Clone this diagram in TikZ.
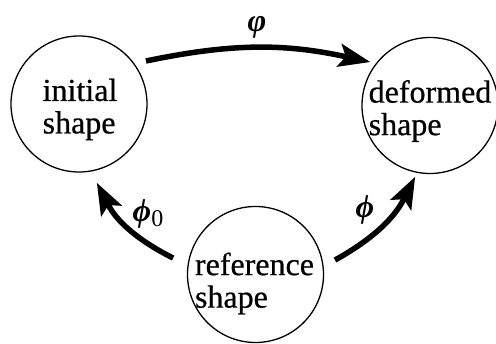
\documentclass[tikz,border=0pt]{standalone}
\usepackage{fontspec}
\setmainfont{Liberation Serif}
\newfontfamily\tnr[FakeBold=0.6]{Liberation Serif}
\usetikzlibrary{arrows.meta,calc}
\begin{document}
\begin{tikzpicture}[x=1pt,y=1pt,
  circ/.style={draw, circle, line width=1.3pt, minimum size=136pt, inner sep=0pt},
  txt/.style={align=left, font=\tnr\fontsize{32}{32.5}\selectfont, inner sep=0pt},
  arr/.style={line width=5.5pt, -{Stealth[length=32pt,width=24pt,inset=7pt,line width=0pt]}},
  lab/.style={font=\fontsize{32}{33}\selectfont\bfseries\itshape, inner sep=0pt}]
\useasboundingbox (0,0) rectangle (496,344);
\node[circ] (init) at (79,240) {};
\node[circ] (def) at (430,238.5) {};
\node[circ] (ref) at (255.5,69.5) {};
\node[txt] (initT) at ($(init.center)+(1,-5.5)$) {initial\\shape};
\node[txt] (defT) at ($(def.center)+(0,-5.5)$) {deformed\\shape};
\node[txt] (refT) at ($(ref.center)+(-1,-9)$) {reference\\shape};
\draw[arr] ($(init.center)+(32.7:79.6pt)$) to[bend left=12] ($(def.center)+(144:74pt)$);
\draw[arr] ($(ref.center)+(168.7:84pt)$) to[bend left=18] ($(init.center)+(-77.2:81pt)$);
\draw[arr] ($(ref.center)+(10.3:80.8pt)$) to[bend right=17] ($(def.center)+(-101.8:73pt)$);
\node[lab] (phiT) at (257,317) {φ};
\node[lab] (phiL) at (148,130) {ϕ\raisebox{-5pt}{\fontsize{24}{24}\selectfont\mdseries\upshape 0}};
\node[lab] (phiR) at (365,134) {ϕ};
\end{tikzpicture}
\end{document}
